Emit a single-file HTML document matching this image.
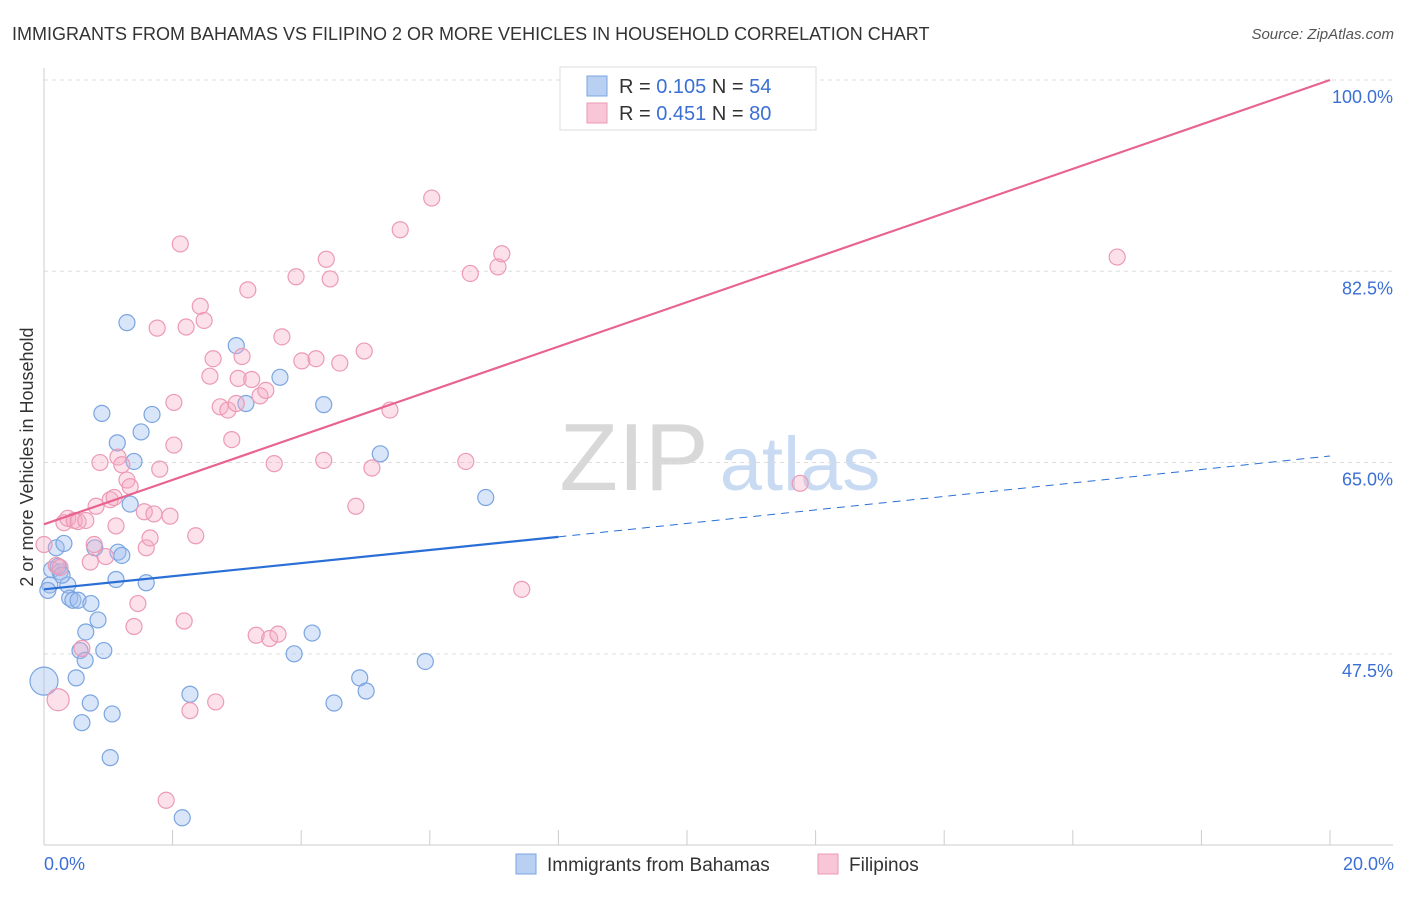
<!DOCTYPE html>
<html><head><meta charset="utf-8"><style>
body{margin:0;background:#fff;font-family:"Liberation Sans",sans-serif;}
svg text{font-family:"Liberation Sans",sans-serif;}
</style></head><body>
<svg id="chart" width="1406" height="892" xmlns="http://www.w3.org/2000/svg">
<text x="12" y="40" font-size="18" fill="#333">IMMIGRANTS FROM BAHAMAS VS FILIPINO 2 OR MORE VEHICLES IN HOUSEHOLD CORRELATION CHART</text>
<text x="1394" y="39" font-size="15" fill="#555" text-anchor="end" font-style="italic">Source: ZipAtlas.com</text>
<g>
<text x="634" y="490" font-size="96" fill="#d8d8d8" font-family="Liberation Serif" text-anchor="middle">ZIP</text>
<text x="800" y="490" font-size="76" fill="#c9daf3" text-anchor="middle">atlas</text>
</g>
<g id="grid"></g>
<g id="axes"></g>
<g id="marks"></g>
<g id="lines"></g>
<text transform="translate(33,457) rotate(-90)" font-size="18" fill="#333" text-anchor="middle">2 or more Vehicles in Household</text>
<text x="44" y="870" font-size="18" fill="#3b6fd4">0.0%</text>
<text x="1394" y="870" font-size="18" fill="#3b6fd4" text-anchor="end">20.0%</text>
<g>
<rect x="560" y="67" width="256" height="63" fill="#fff" stroke="#ddd"/>
<rect x="587" y="76" width="20" height="20" fill="#b9d0f3" stroke="#7aa5e0"/>
<rect x="587" y="103" width="20" height="20" fill="#f8c6d6" stroke="#ec9ab5"/>
<text x="619" y="93" font-size="20" fill="#333">R = <tspan fill="#3b6fd4">0.105</tspan>   N = <tspan fill="#3b6fd4">54</tspan></text>
<text x="619" y="120" font-size="20" fill="#333">R = <tspan fill="#3b6fd4">0.451</tspan>   N = <tspan fill="#3b6fd4">80</tspan></text>
</g>
<g>
<rect x="516" y="854" width="20" height="20" fill="#b9d0f3" stroke="#7aa5e0"/>
<text x="547" y="871" font-size="19" fill="#333">Immigrants from Bahamas</text>
<rect x="818" y="854" width="20" height="20" fill="#f8c6d6" stroke="#ec9ab5"/>
<text x="849" y="871" font-size="19" fill="#333">Filipinos</text>
</g>
</svg>
<script>
const yTicks=[100,82.5,65,47.5];
const yTickLabels=["100.0%","82.5%","65.0%","47.5%"];
const xTicks=[0,2,4,6,8,10,12,14,16,18,20];
const blueX=[0,.09,.12,.19,.25,.31,.37,.40,.45,.50,.53,.56,.59,.64,.65,.72,.73,.79,.84,.90,.93,1.03,1.06,1.12,1.14,1.15,1.21,1.29,1.34,1.40,1.51,1.59,1.68,2.15,2.27,2.99,3.14,3.67,3.89,4.17,4.35,4.51,4.91,5.01,5.23,5.93,6.87,.22,.28,.06];
const blueY=[45.0,53.8,55.2,57.2,55.0,57.6,53.8,52.6,52.4,45.3,52.4,47.8,41.2,46.9,49.5,43.0,52.1,57.2,50.6,69.5,47.8,38.0,42.0,54.3,66.8,56.8,56.5,77.8,61.2,65.1,67.8,54.0,69.4,32.5,43.8,75.7,70.4,72.8,47.5,49.4,70.3,43.0,45.3,44.1,65.8,46.8,61.8,55.5,54.7,53.3];
const pinkX=[0,.19,.22,.25,.31,.37,.47,.53,.59,.65,.72,.78,.81,.87,.96,1.03,1.09,1.12,1.15,1.21,1.29,1.34,1.40,1.46,1.56,1.59,1.65,1.71,1.76,1.80,1.90,1.96,2.02,2.02,2.12,2.18,2.21,2.27,2.36,2.43,2.49,2.58,2.63,2.67,2.74,2.86,2.92,2.99,3.02,3.08,3.17,3.23,3.30,3.36,3.45,3.51,3.58,3.64,3.70,3.92,4.01,4.23,4.35,4.39,4.45,4.60,4.85,4.98,5.10,5.38,5.54,6.03,6.56,6.63,7.06,7.12,7.43,11.76,16.69];
const pinkY=[57.5,55.6,43.3,55.4,59.5,59.9,59.7,59.6,48.0,59.7,55.9,57.5,61.0,65.0,56.4,61.6,61.8,59.2,65.5,64.8,63.4,62.8,50.0,52.1,60.5,57.2,58.1,60.3,77.3,64.4,34.1,60.1,66.6,70.5,85.0,50.5,77.4,42.3,58.3,79.3,78.0,72.9,74.5,43.1,70.1,69.8,67.1,70.4,72.7,74.7,80.8,72.6,49.2,71.1,71.6,48.9,64.9,49.3,76.5,82.0,74.3,74.5,65.2,83.6,81.8,74.1,61.0,75.2,64.5,69.8,86.3,89.2,65.1,82.3,82.9,84.1,53.4,63.1,83.8];
const blueTrendX=[0,8,20];
const blueTrendY=[53.4,58.2,65.6];
const pinkTrendX=[0,20];
const pinkTrendY=[59.35,100];
const NS="http://www.w3.org/2000/svg";
const X=v=>44+v/20*1286;
const Y=v=>80+(100-v)*10.93;
function mk(tag,attrs,parent){const e=document.createElementNS(NS,tag);for(const k in attrs)e.setAttribute(k,attrs[k]);document.getElementById(parent).appendChild(e);return e;}
yTicks.forEach((t,i)=>{
 const l=mk('line',{x1:44,x2:1393,y1:Y(t),y2:Y(t),stroke:'#ddd','stroke-dasharray':'4,4'},'grid');
 
 
 const tx=mk('text',{x:1393,y:Y(t)+23,'font-size':18,fill:'#3b6fd4','text-anchor':'end'},'grid');
 tx.textContent=yTickLabels[i];
 
 
});
let a=mk('line',{x1:44,x2:44,y1:68,y2:845,stroke:'#ccc'},'axes');


a=mk('line',{x1:44,x2:1393,y1:845,y2:845,stroke:'#ccc'},'axes');


xTicks.forEach(t=>{
 const l=mk('line',{x1:X(t),x2:X(t),y1:830,y2:845,stroke:'#ccc'},'axes');
 
 
});
blueX.forEach((x,i)=>{
 const c=mk('circle',{cx:X(x),cy:Y(blueY[i]),r:i==0?14:8,fill:'rgba(160,190,240,0.4)',stroke:'#7aa5e0','stroke-width':1.2},'marks');
 
 
});
pinkX.forEach((x,i)=>{
 const c=mk('circle',{cx:X(x),cy:Y(pinkY[i]),r:i==2?11:8,fill:'rgba(245,170,195,0.35)',stroke:'#ec9ab5','stroke-width':1.2},'marks');
 
 
});
let l=mk('line',{x1:X(pinkTrendX[0]),y1:Y(pinkTrendY[0]),x2:X(pinkTrendX[1]),y2:Y(pinkTrendY[1]),stroke:'#e8638f','stroke-width':2.2},'lines');


l=mk('line',{x1:X(blueTrendX[0]),y1:Y(blueTrendY[0]),x2:X(blueTrendX[1]),y2:Y(blueTrendY[1]),stroke:'#2a6fd6','stroke-width':2.2},'lines');


l=mk('line',{x1:X(blueTrendX[1]),y1:Y(blueTrendY[1]),x2:X(blueTrendX[2]),y2:Y(blueTrendY[2]),stroke:'#2a6fd6','stroke-width':1,'stroke-dasharray':'8,6'},'lines');


</script>
</body></html>
